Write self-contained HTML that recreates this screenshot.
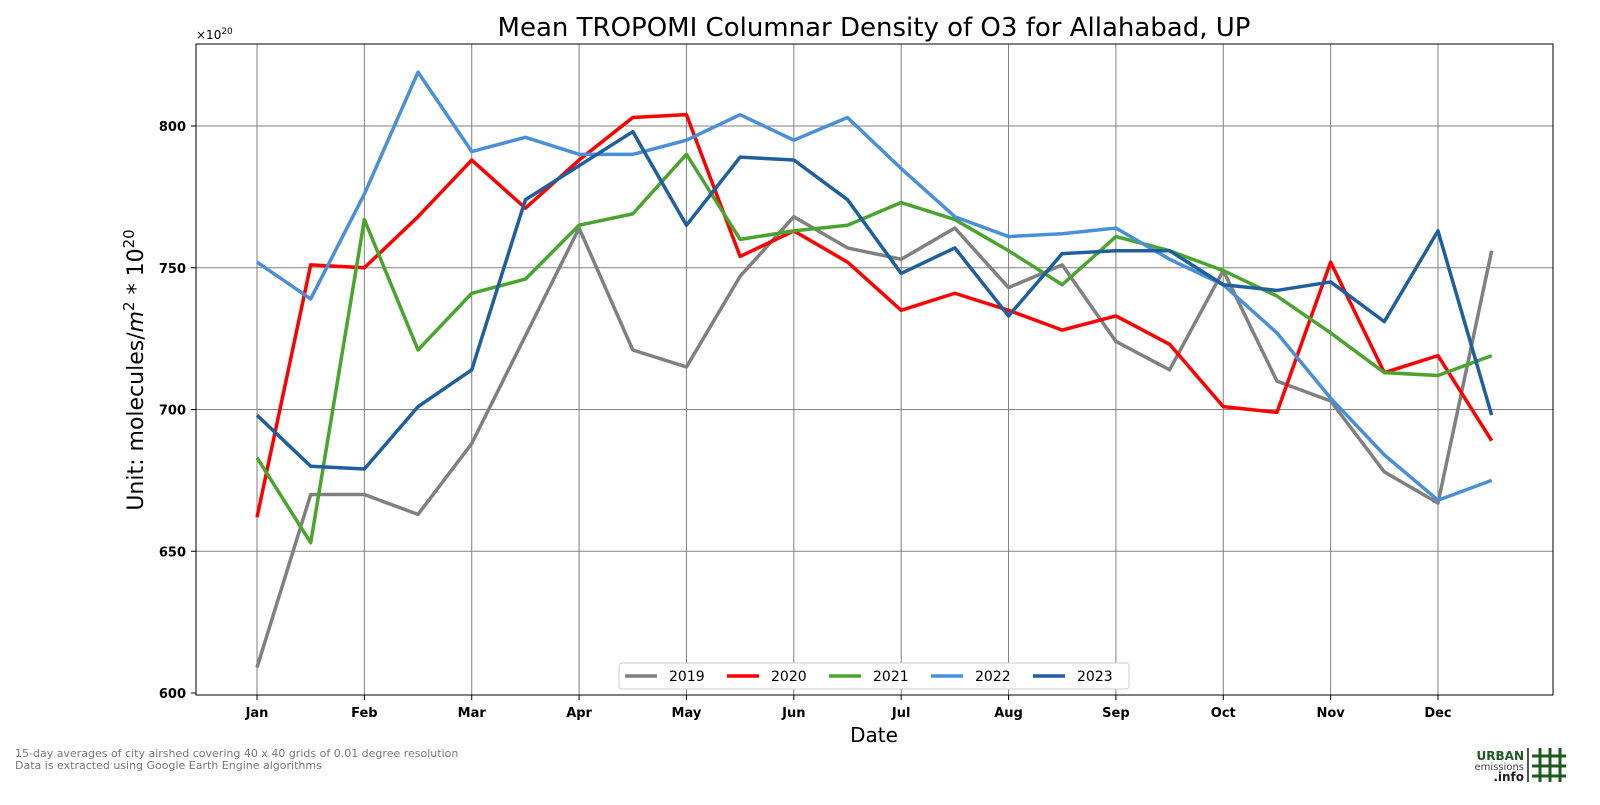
<!DOCTYPE html>
<html><head><meta charset="utf-8"><style>
body{margin:0;background:#fff;font-family:"Liberation Sans","DejaVu Sans",sans-serif}
svg text{font-family:"DejaVu Sans","Liberation Sans",sans-serif}
</style></head><body>
<svg id="c" width="1600" height="800" xmlns="http://www.w3.org/2000/svg">
<text x="874" y="36" font-size="26" text-anchor="middle">Mean TROPOMI Columnar Density of O3 for Allahabad, UP</text>
<text x="196" y="39" font-size="12">×10<tspan dy="-5" font-size="9">20</tspan></text>
<g id="grid"></g>
<g id="lines"></g>
<rect x="196" y="44" width="1357" height="651" fill="none" stroke="#000" stroke-width="1"/>
<g id="ticks"></g>
<text x="874" y="742" font-size="20" text-anchor="middle">Date</text>
<text transform="translate(143,370) rotate(-90)" font-size="22" text-anchor="middle">Unit: molecules/<tspan font-style="italic">m</tspan><tspan dy="-9" font-size="15">2</tspan><tspan dy="9"> * 10</tspan><tspan dy="-9" font-size="15">20</tspan></text>
<g id="legend"></g>
<text x="15" y="757" font-size="11" fill="#777">15-day averages of city airshed covering 40 x 40 grids of 0.01 degree resolution</text>
<text x="15" y="769" font-size="11" fill="#777">Data is extracted using Google Earth Engine algorithms</text>
<g>
<text x="1524" y="760" font-size="12" font-weight="bold" fill="#1e5a1e" text-anchor="end">URBAN</text>
<text x="1524" y="770" font-size="10" fill="#444" text-anchor="end">emissions</text>
<text x="1524" y="781" font-size="12" font-weight="bold" fill="#222" text-anchor="end">.info</text>
<line x1="1528" y1="748" x2="1528" y2="782" stroke="#555" stroke-width="2"/>
<g stroke="#1e5a1e" stroke-width="3">
<line x1="1540" y1="748" x2="1540" y2="782"/><line x1="1550" y1="748" x2="1550" y2="782"/><line x1="1560" y1="748" x2="1560" y2="782"/>
<line x1="1532" y1="756" x2="1566" y2="756"/><line x1="1532" y1="766" x2="1566" y2="766"/><line x1="1532" y1="776" x2="1566" y2="776"/>
</g></g>
</svg>
<script>
const months=["Jan","Feb","Mar","Apr","May","Jun","Jul","Aug","Sep","Oct","Nov","Dec"];
const yTicks=[600,650,700,750,800];
const years=["2019","2020","2021","2022","2023"];
const colors=["#808080","#ff0000","#4aa52e","#4a90d9","#1f5f9e"];
const s2019=[609,670,670,663,688,726,764,721,715,747,768,757,753,764,743,751,724,714,749,710,703,678,667,756];
const s2020=[662,751,750,768,788,771,788,803,804,754,763,752,735,741,735,728,733,723,701,699,752,713,719,689];
const s2021=[683,653,767,721,741,746,765,769,790,760,763,765,773,767,756,744,761,756,749,740,727,713,712,719];
const s2022=[752,739,776,819,791,796,790,790,795,804,795,803,785,768,761,762,764,753,744,727,704,684,668,675];
const s2023=[698,680,679,701,714,774,786,798,765,789,788,774,748,757,733,755,756,756,744,742,745,731,763,698];
const series=[s2019,s2020,s2021,s2022,s2023];
const NS="http://www.w3.org/2000/svg";
const xi=i=>257+i*(1438-257)/22;
const yv=v=>693-(v-600)*(693-126)/200;
function mk(t,a,p){const e=document.createElementNS(NS,t);for(const k in a)e.setAttribute(k,a[k]);p.appendChild(e);return e;}
const grid=document.getElementById('grid'),ticks=document.getElementById('ticks');
months.forEach((m,i)=>{const x=xi(i*2);
const g=mk('line',{x1:x,x2:x,y1:44,y2:695,stroke:'#808080','stroke-width':1},grid);


mk('line',{x1:x,x2:x,y1:695,y2:700,stroke:'#000'},ticks);
const t=mk('text',{x:x,y:717,'font-size':13,'font-weight':'bold','text-anchor':'middle'},ticks);t.textContent=m;

});
yTicks.forEach(v=>{const y=yv(v);
if(v>600){const g=mk('line',{x1:196,x2:1553,y1:y,y2:y,stroke:'#808080','stroke-width':1},grid);

}
mk('line',{x1:191,x2:196,y1:y,y2:y,stroke:'#000'},ticks);
const t=mk('text',{x:186,y:y+5,'font-size':13,'font-weight':'bold','text-anchor':'end'},ticks);t.textContent=v;

});
const lines=document.getElementById('lines');
series.forEach((s,k)=>{const p=mk('polyline',{points:s.map((v,i)=>xi(i)+','+yv(v)).join(' '),fill:'none',stroke:colors[k],'stroke-width':3.5,'stroke-linejoin':'round'},lines);

});
const lg=document.getElementById('legend');


mk('rect',{x:619,y:663,width:510,height:26,rx:3,fill:'#fff',stroke:'#ccc'},lg);
years.forEach((y,k)=>{const x0=625+k*102;
mk('line',{x1:x0,x2:x0+32,y1:676,y2:676,stroke:colors[k],'stroke-width':3.5},lg);
const t=mk('text',{x:x0+44,y:681,'font-size':14},lg);t.textContent=y;

});
</script>
</body></html>
